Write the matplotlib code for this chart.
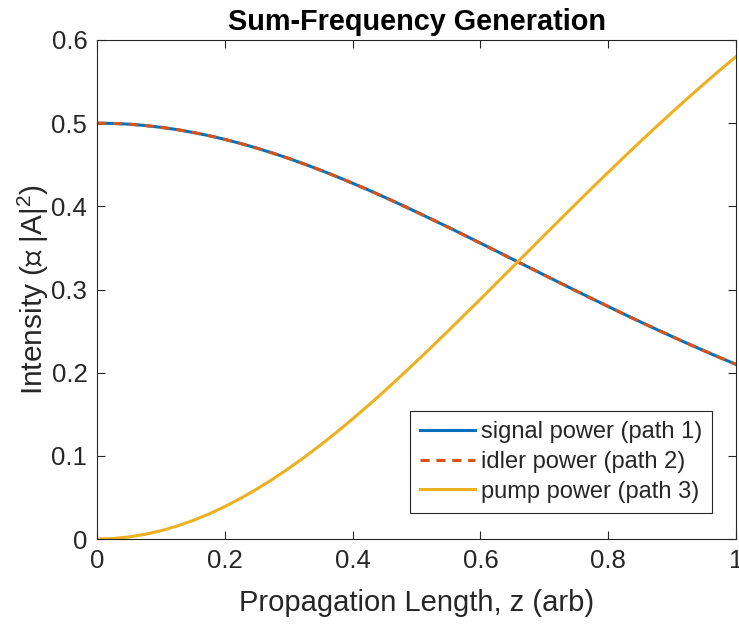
import numpy as np
import matplotlib
matplotlib.use("Agg")
import matplotlib.pyplot as plt

plt.rcParams['font.family'] = ['Liberation Sans', 'DejaVu Sans']
plt.rcParams['mathtext.fontset'] = 'custom'
plt.rcParams['mathtext.rm'] = 'Liberation Sans'
plt.rcParams['mathtext.it'] = 'Liberation Sans:italic'

# propagation length samples
z = np.array([0.000, 0.025, 0.050, 0.075, 0.100, 0.125, 0.150, 0.175, 0.200, 0.225,
              0.250, 0.275, 0.300, 0.325, 0.350, 0.375, 0.400, 0.425, 0.450, 0.475,
              0.500, 0.525, 0.550, 0.575, 0.600, 0.625, 0.650, 0.675, 0.700, 0.725,
              0.750, 0.775, 0.800, 0.825, 0.850, 0.875, 0.900, 0.925, 0.950, 0.975,
              1.000])

# field intensities along z
signal = np.array([0.5000, 0.4997, 0.4988, 0.4972, 0.4950, 0.4923, 0.4889, 0.4850,
                   0.4805, 0.4755, 0.4700, 0.4640, 0.4576, 0.4507, 0.4434, 0.4358,
                   0.4278, 0.4196, 0.4110, 0.4022, 0.3932, 0.3840, 0.3748, 0.3653,
                   0.3558, 0.3462, 0.3366, 0.3270, 0.3174, 0.3078, 0.2983, 0.2889,
                   0.2796, 0.2703, 0.2612, 0.2523, 0.2435, 0.2348, 0.2264, 0.2181,
                   0.2100])
idler = np.array([0.5000, 0.4997, 0.4988, 0.4972, 0.4950, 0.4923, 0.4889, 0.4850,
                  0.4805, 0.4755, 0.4700, 0.4640, 0.4576, 0.4507, 0.4434, 0.4358,
                  0.4278, 0.4196, 0.4110, 0.4022, 0.3932, 0.3840, 0.3748, 0.3653,
                  0.3558, 0.3462, 0.3366, 0.3270, 0.3174, 0.3078, 0.2983, 0.2889,
                  0.2796, 0.2703, 0.2612, 0.2523, 0.2435, 0.2348, 0.2264, 0.2181,
                  0.2100])
pump = np.array([0.0000, 0.0006, 0.0025, 0.0056, 0.0099, 0.0155, 0.0222, 0.0300,
                 0.0390, 0.0490, 0.0600, 0.0720, 0.0849, 0.0986, 0.1132, 0.1284,
                 0.1444, 0.1609, 0.1780, 0.1956, 0.2136, 0.2319, 0.2505, 0.2694,
                 0.2884, 0.3076, 0.3268, 0.3460, 0.3653, 0.3844, 0.4034, 0.4223,
                 0.4409, 0.4594, 0.4776, 0.4955, 0.5131, 0.5304, 0.5473, 0.5638,
                 0.5800])

xticks = [0, 0.2, 0.4, 0.6, 0.8, 1]
xticklabels = ['0', '0.2', '0.4', '0.6', '0.8', '1']
yticks = [0, 0.1, 0.2, 0.3, 0.4, 0.5, 0.6]
yticklabels = ['0', '0.1', '0.2', '0.3', '0.4', '0.5', '0.6']

fg = '#262626'
fig = plt.figure(figsize=(7.39, 6.24), dpi=100)
ax = fig.add_axes([0.1313, 0.1362, 0.8646, 0.7997])

ax.plot(z, signal, color='#0072BD', lw=2.2, label='signal power (path 1)')
ax.plot(z, idler, color='#D95319', lw=2.2, ls=(0, (3, 2.2)), label='idler power (path 2)')
ax.plot(z, pump, color='#EDB120', lw=2.2, label='pump power (path 3)')

ax.set_xlim(0, 1)
ax.set_ylim(0, 0.6)
ax.set_xticks(xticks)
ax.set_xticklabels(xticklabels)
ax.set_yticks(yticks)
ax.set_yticklabels(yticklabels)
ax.tick_params(direction='in', top=True, right=True, length=6, width=0.8,
               labelsize=18.5, colors=fg, pad=7)
for s in ax.spines.values():
    s.set_color(fg)
    s.set_linewidth(0.8)

ax.set_xlabel('Propagation Length, z (arb)', fontsize=21, color=fg, labelpad=12)
ax.set_ylabel(r'Intensity (∝ |A|$^{2}$)', fontsize=21.5, color=fg)
ax.yaxis.set_label_coords(-0.072, 0.5)
ax.set_title('Sum-Frequency Generation', fontsize=20.8, fontweight='bold', color='black', pad=7)

leg = ax.legend(loc='lower right', bbox_to_anchor=(0.963, 0.053), fontsize=17,
                fancybox=False, framealpha=1, edgecolor=fg, handlelength=2.35,
                handletextpad=0.25, borderpad=0.42, labelspacing=0.33, borderaxespad=0)
leg.get_frame().set_linewidth(0.8)
for t in leg.get_texts():
    t.set_color(fg)

fig.savefig('out.png', dpi=100)
